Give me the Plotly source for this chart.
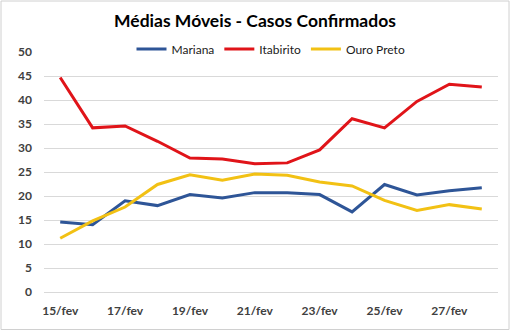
import plotly.graph_objects as go

dates = ["15/fev", "16/fev", "17/fev", "18/fev", "19/fev", "20/fev", "21/fev",
         "22/fev", "23/fev", "24/fev", "25/fev", "26/fev", "27/fev", "28/fev"]
mariana = [14.6, 14.0, 19.0, 18.0, 20.3, 19.6, 20.7, 20.7, 20.3, 16.7, 22.4, 20.2, 21.1, 21.7]
itabirito = [44.7, 34.2, 34.6, 31.4, 27.9, 27.7, 26.7, 26.9, 29.6, 36.1, 34.2, 39.7, 43.3, 42.7]
ouro_preto = [11.2, 14.8, 17.7, 22.4, 24.4, 23.3, 24.6, 24.3, 22.9, 22.1, 19.1, 17.0, 18.2, 17.3]
y_ticks = [0, 5, 10, 15, 20, 25, 30, 35, 40, 45, 50]
x_ticks = dates[::2]

W, H = 510, 331
L, R, T, B = 44, 12, 52, 39
pw, ph = W - L - R, H - T - B

fig = go.Figure()
for name, vals, col in [("Mariana", mariana, "#2E5597"),
                        ("Itabirito", itabirito, "#E01419"),
                        ("Ouro Preto", ouro_preto, "#F2C114")]:
    fig.add_trace(go.Scatter(x=dates, y=vals, name=name, mode="lines",
                             line=dict(color=col, width=3)))

tickfont = dict(size=12, color="#404040", weight="bold")

fig.update_layout(
    width=W, height=H,
    margin=dict(l=L, r=R, t=T, b=B),
    paper_bgcolor="white", plot_bgcolor="white",
    font=dict(family="Lato, Open Sans, sans-serif", color="#404040"),
    title=dict(text="<b>Médias Móveis - Casos Confirmados</b>",
               x=0.5, xanchor="center", y=1 - 21 / H, yanchor="middle",
               font=dict(size=17.5, color="#000000")),
    legend=dict(orientation="h", x=0.5, xanchor="center",
                y=(ph + T - 49) / ph, yanchor="middle",
                font=dict(size=12, color="#1a1a1a"),
                bgcolor="rgba(255,255,255,0)", traceorder="normal",
                itemwidth=30, tracegroupgap=0),
    showlegend=True,
    xaxis=dict(type="category", range=[-0.5, 13.5], tickmode="array",
               tickvals=x_ticks, ticktext=x_ticks, showgrid=False,
               showline=True, linecolor="#d9d9d9", linewidth=1,
               ticks="", ticklabelstandoff=8, tickfont=tickfont,
               fixedrange=True),
    yaxis=dict(range=[0, 50], tickmode="array", tickvals=y_ticks,
               showgrid=True, gridcolor="#d9d9d9", gridwidth=1,
               zeroline=False, ticks="", ticklen=0, ticklabelstandoff=11,
               tickfont=tickfont, fixedrange=True),
)

fig.add_shape(type="rect", xref="paper", yref="paper",
              x0=(1 - L) / pw, x1=(509 - L) / pw,
              y0=(T + ph - 329.5) / ph, y1=(T + ph - 1) / ph,
              line=dict(color="#d0d0d0", width=1), layer="below")

fig.write_html("out.html")
